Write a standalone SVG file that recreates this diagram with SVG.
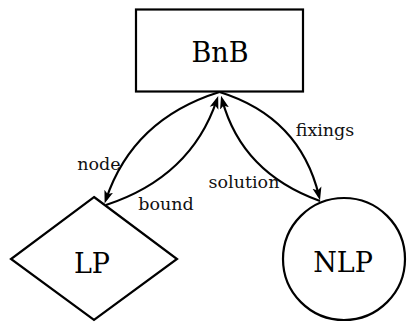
<svg xmlns="http://www.w3.org/2000/svg" width="407" height="322" viewBox="0 0 407 322">
  <style>
    .shape { fill: #ffffff; stroke: #000000; stroke-width: 2.2; }
    .edge { fill: none; stroke: #000000; stroke-width: 2.2; marker-end: url(#tip); }
    .big { font-family: 'DejaVu Serif', serif; font-size: 27px; text-anchor: middle; fill: #000000; }
    .lbl { font-family: 'DejaVu Serif', serif; font-size: 17.5px; text-anchor: middle; fill: #111111; }
  </style>
  <defs>
    <marker id="tip" markerUnits="userSpaceOnUse" markerWidth="13" markerHeight="10" viewBox="0 0 12 9" refX="8" refY="4.5" orient="auto">
      <path d="M0,0.3 L12,4.5 L0,8.7 L2.8,4.5 z" fill="#000000"/>
    </marker>
  </defs>

  <g id="BnB">
    <rect class="shape" x="136" y="9.5" width="167" height="82"/>
    <text class="big" x="220" y="62">BnB</text>
  </g>

  <g id="LP">
    <polygon class="shape" points="94,197 177,259 94,320 11,259"/>
    <text class="big" x="92" y="273">LP</text>
  </g>

  <g id="NLP">
    <circle class="shape" cx="344" cy="259" r="61"/>
    <text class="big" x="343" y="272">NLP</text>
  </g>

  <g id="connectors">
    <!-- BnB to LP -->
    <path class="edge" d="M219.5,92 Q133,119 106,199.5"/>
    <!-- LP to BnB -->
    <path class="edge" d="M106,205 Q191,177 216.8,100"/>
    <!-- BnB to NLP -->
    <path class="edge" d="M219.5,92 Q300,117 319,196"/>
    <!-- NLP to BnB -->
    <path class="edge" d="M320,201 Q242,173 222.2,100"/>
    <text class="lbl" x="99" y="169.5">node</text>
    <text class="lbl" x="166" y="210">bound</text>
    <text class="lbl" x="244" y="188">solution</text>
    <text class="lbl" x="325" y="136">fixings</text>
  </g>
</svg>
